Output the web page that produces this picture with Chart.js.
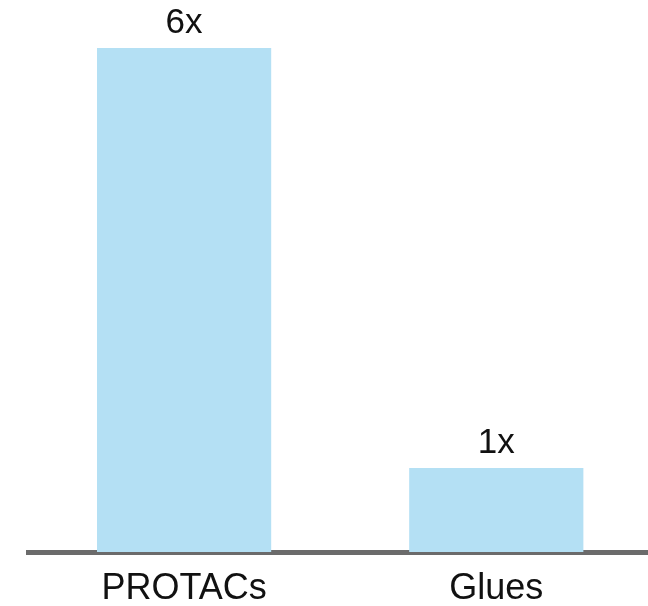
<!DOCTYPE html>
<html>
<head>
<meta charset="utf-8">
<script src="https://cdn.jsdelivr.net/npm/chart.js@4/dist/chart.umd.min.js"></script>
<style>
html,body{margin:0;padding:0;background:#fff;}
canvas{display:block;}
</style>
</head>
<body>
<canvas id="c" width="648" height="606"></canvas>
<script>
const categories = ["PROTACs", "Glues"];
const values = [6, 1];
const valueLabels = ["6x", "1x"];

const FONT = '"Liberation Sans", Arial, Helvetica, sans-serif';

const labelPlugin = {
  id: 'valueLabels',
  afterDatasetsDraw(chart) {
    const ctx = chart.ctx;
    const meta = chart.getDatasetMeta(0);
    ctx.save();
    ctx.font = '35px ' + FONT;
    ctx.fillStyle = '#111';
    ctx.textAlign = 'center';
    ctx.textBaseline = 'alphabetic';
    meta.data.forEach((bar, i) => {
      ctx.fillText(valueLabels[i], bar.x, bar.y - 15);
    });
    ctx.restore();
  }
};

new Chart(document.getElementById('c'), {
  type: 'bar',
  data: {
    datasets: [{
      data: values.map((v, i) => ({x: i, y: v})),
      backgroundColor: '#b4e0f4',
      borderWidth: 0,
      categoryPercentage: 1,
      barPercentage: 0.558
    }]
  },
  options: {
    responsive: false,
    animation: false,
    events: [],
    layout: {padding: {left: 28, right: 0, top: 48, bottom: 2}},
    plugins: {legend: {display: false}, tooltip: {enabled: false}},
    scales: {
      x: {
        type: 'linear',
        offset: false,
        min: -0.5,
        max: 1.486,
        afterBuildTicks: (scale) => { scale.ticks = categories.map((_, i) => ({value: i})); },
        afterFit: (scale) => { scale.height = 52; },
        grid: {display: false, drawTicks: false, offset: false},
        border: {display: true, color: '#6b6b6b', width: 5},
        ticks: {
          padding: 15,
          color: '#111',
          font: {family: FONT, size: 36},
          autoSkip: false,
          maxRotation: 0,
          callback: (v) => categories[v] ?? ''
        }
      },
      y: {
        display: false,
        min: 0,
        max: 6
      }
    }
  },
  plugins: [labelPlugin]
});
</script>
</body>
</html>
